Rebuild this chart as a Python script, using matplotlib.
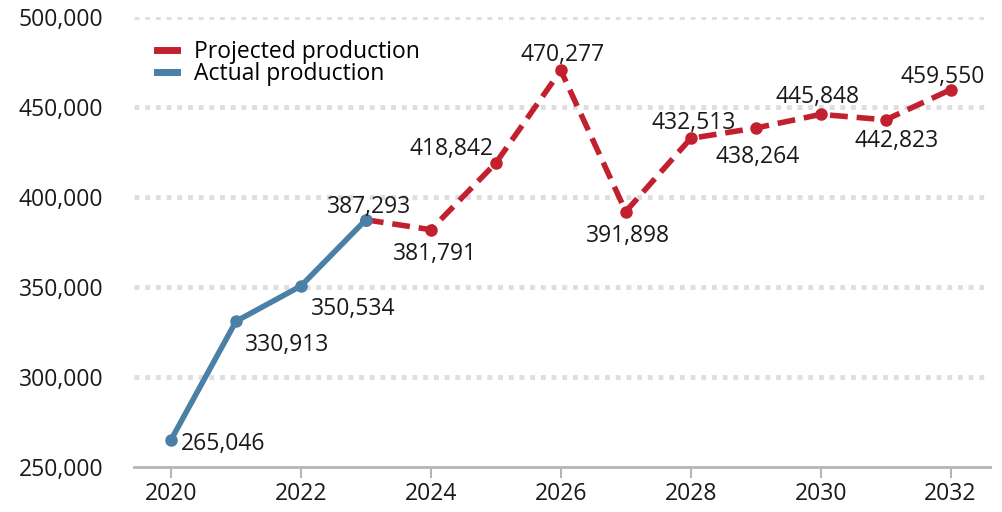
import matplotlib
matplotlib.use("Agg")
import matplotlib.pyplot as plt
from matplotlib.lines import Line2D
from matplotlib.ticker import FuncFormatter

plt.rcParams['font.family'] = ['Open Sans', 'DejaVu Sans']

# actual production 2020-2023, projected 2023-2032
actual_years = [2020, 2021, 2022, 2023]
actual_vals = [265046, 330913, 350534, 387293]
proj_years = [2023, 2024, 2025, 2026, 2027, 2028, 2029, 2030, 2031, 2032]
proj_vals = [387293, 381791, 418842, 470277, 391898, 432513, 438264, 445848, 442823, 459550]

red = '#c2202f'
blue = '#4a80a6'
fs = 16.5

fig = plt.figure(figsize=(10.03, 5.12), dpi=100)
ax = fig.add_axes([0.1336, 0.088, 0.853, 0.879])

ax.plot(proj_years, proj_vals, color=red, lw=4, dashes=(3.2, 1.6), marker='o', ms=8, zorder=3)
ax.plot(actual_years, actual_vals, color=blue, lw=4, marker='o', ms=8, zorder=4)

# label offsets in pixels from the point to the label centre
offsets = {
    2020: (52, -4), 2021: (51, -24), 2022: (52, -23), 2023: (3, 13),
    2024: (4, -24), 2025: (-44, 14), 2026: (2, 15), 2027: (2, -24),
    2028: (3, 15), 2029: (2, -29), 2030: (-3, 17), 2031: (11, -21),
    2032: (-8, 13),
}
all_years = actual_years + proj_years[1:]
all_vals = actual_vals + proj_vals[1:]
for yr, v in zip(all_years, all_vals):
    dx, dy = offsets[yr]
    ax.annotate(f'{v:,}', (yr, v), xytext=(dx * 0.72, dy * 0.72), textcoords='offset points',
                ha='center', va='center', fontsize=fs, color='#1a1a1a', zorder=5)

ax.set_xlim(2019.43, 2032.6)
ax.set_ylim(250000, 500000)
ax.set_xticks([2020, 2022, 2024, 2026, 2028, 2030, 2032])
ax.set_yticks([250000, 300000, 350000, 400000, 450000, 500000])
ax.yaxis.set_major_formatter(FuncFormatter(lambda v, p: f'{int(v):,}'))
ax.tick_params(axis='y', length=0, labelsize=fs, pad=22, labelcolor='#1a1a1a')
ax.tick_params(axis='x', length=8, width=1.5, color='#b5b5b5', labelsize=fs, pad=3,
               labelcolor='#1a1a1a')

for s in ['top', 'right', 'left']:
    ax.spines[s].set_visible(False)
ax.spines['bottom'].set_color('#b5b5b5')
ax.spines['bottom'].set_linewidth(2)

for g in [300000, 350000, 400000, 450000, 500000]:
    ax.axhline(g, color='#dedede', lw=3.5, dashes=(1, 1.2), zorder=1)

handles = [Line2D([], [], color=red, lw=5), Line2D([], [], color=blue, lw=5)]
ax.legend(handles, ['Projected production', 'Actual production'], loc='upper left',
          bbox_to_anchor=(0.016, 0.97), frameon=False, fontsize=fs,
          handlelength=0.9, handletextpad=0.7, labelspacing=-0.05, borderaxespad=0)

fig.savefig('out.png', dpi=100)
